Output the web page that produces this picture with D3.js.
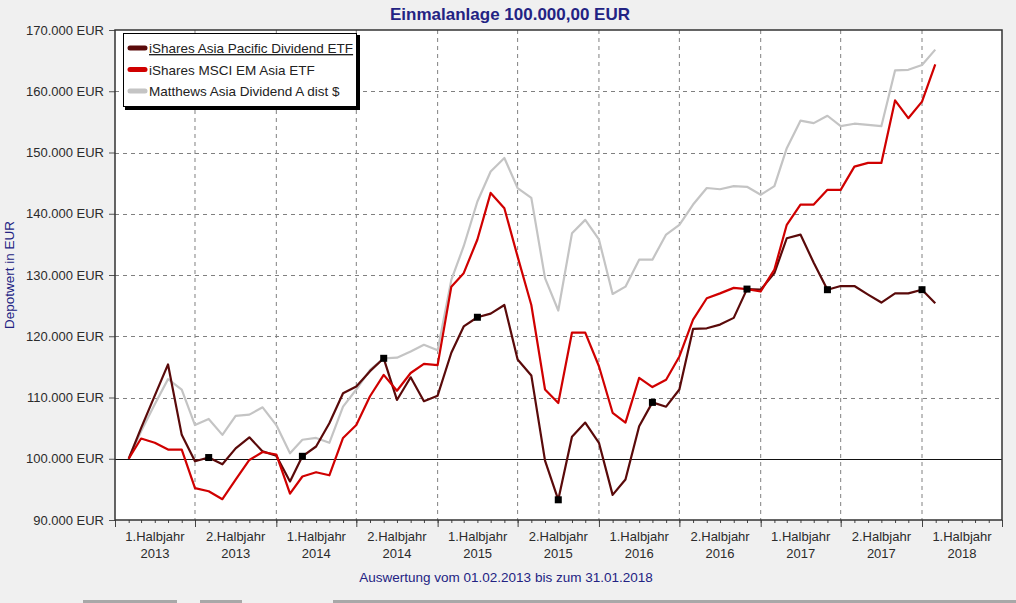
<!DOCTYPE html>
<html>
<head>
<meta charset="utf-8">
<script src="https://cdn.jsdelivr.net/npm/d3@7"></script>
<style>
  html, body { margin: 0; padding: 0; background: #f0f0f0; }
  svg { display: block; font-family: "Liberation Sans", Arial, sans-serif; }
</style>
</head>
<body>
<svg id="chart" width="1016" height="603"></svg>
<script>
// ---- data ----
const seriesNames = ["iShares Asia Pacific Dividend ETF", "iShares MSCI EM Asia ETF", "Matthews Asia Dividend A dist $"];
const seriesColors = ["#5a0a0a", "#d00000", "#c4c4c4"];

// monthly values Feb 2013 .. Jan 2018 (in thousand EUR)
const asiaPacDiv = [100.0,105.0,110.3,115.4,103.9,99.6,100.2,99.1,101.7,103.5,101.2,100.5,96.3,100.4,102.0,105.8,110.7,111.8,114.3,116.4,
  109.6,113.3,109.4,110.3,117.3,121.6,123.1,123.7,125.1,116.2,113.6,99.7,93.3,103.6,105.9,102.6,94.1,96.6,105.3,109.2,
  108.5,111.3,121.2,121.3,121.9,123.0,127.7,127.6,130.3,136.0,136.6,132.0,127.6,128.2,128.2,126.8,125.5,127.0,127.0,127.6,125.4];
const msciEmAsia = [100.0,103.3,102.6,101.5,101.5,95.2,94.7,93.4,96.6,99.8,101.1,100.7,94.3,97.1,97.8,97.3,103.4,105.5,110.2,113.7,
  111.1,114.0,115.5,115.3,128.1,130.3,135.8,143.4,140.9,133.0,125.1,111.3,109.1,120.6,120.6,115.1,107.5,105.9,113.2,111.7,
  112.9,116.7,122.7,126.2,127.0,127.9,127.7,127.3,130.9,138.2,141.5,141.5,143.9,143.9,147.7,148.3,148.3,158.5,155.6,158.3,164.4];
const matthews = [100.0,104.5,108.9,113.0,111.3,105.5,106.5,103.9,107.0,107.2,108.4,105.5,100.9,103.1,103.4,102.6,108.5,111.3,114.5,116.4,
  116.5,117.5,118.6,117.7,129.2,134.7,142.0,146.9,149.1,144.2,142.6,129.5,124.2,136.8,139.0,135.8,126.9,128.1,132.5,132.5,
  136.6,138.2,141.5,144.2,144.0,144.5,144.4,143.1,144.5,150.7,155.2,154.8,156.0,154.3,154.7,154.5,154.3,163.4,163.5,164.3,166.8];
// point indices (0-based) carrying a marker on the first series
const markerIdx = [6, 13, 19, 26, 32, 39, 46, 52, 59];

const yTicks = [90, 100, 110, 120, 130, 140, 150, 160, 170];
const xHalfLabels = [["1.Halbjahr","2013"],["2.Halbjahr","2013"],["1.Halbjahr","2014"],["2.Halbjahr","2014"],
  ["1.Halbjahr","2015"],["2.Halbjahr","2015"],["1.Halbjahr","2016"],["2.Halbjahr","2016"],
  ["1.Halbjahr","2017"],["2.Halbjahr","2017"],["1.Halbjahr","2018"]];
const titleText = "Einmalanlage 100.000,00 EUR";
const yTitle = "Depotwert in EUR";
const footText = "Auswertung vom 01.02.2013 bis zum 31.01.2018";

// dates: first of each month Feb 2013 .. Jan 2018, last point 31.01.2018
const dates = d3.timeMonth.range(new Date(2013, 1, 1), new Date(2018, 0, 2));
dates.push(new Date(2018, 0, 31));

// ---- layout ----
const svg = d3.select("#chart");
const L = 115, R = 1002, T = 30, B = 520;
const x = d3.scaleTime().domain([new Date(2013, 0, 1), new Date(2018, 6, 1)]).range([L, R]);
const y = d3.scaleLinear().domain([90, 170]).range([B, T]);
const blue = "#232383";
const textCol = "#2b2b2b";

// plot background
svg.append("rect").attr("x", L).attr("y", T).attr("width", R - L).attr("height", B - T).attr("fill", "#fff");

// grid
const halfYears = d3.timeMonth.every(6).range(new Date(2013, 0, 1), new Date(2018, 6, 2));
svg.append("g").selectAll("line").data(halfYears.slice(1, -1)).join("line")
  .attr("x1", d => x(d)).attr("x2", d => x(d)).attr("y1", T).attr("y2", B)
  .attr("stroke", "#808080").attr("stroke-dasharray", "4,4").attr("stroke-width", 1);
svg.append("g").selectAll("line").data(yTicks.filter(v => v !== 90 && v !== 170 && v !== 100)).join("line")
  .attr("x1", L).attr("x2", R).attr("y1", d => Math.round(y(d)) + 0.5).attr("y2", d => Math.round(y(d)) + 0.5)
  .attr("stroke", "#808080").attr("stroke-dasharray", "4,4").attr("stroke-width", 1);
// baseline 100.000
svg.append("line").attr("x1", L).attr("x2", R).attr("y1", Math.round(y(100)) + 0.5).attr("y2", Math.round(y(100)) + 0.5)
  .attr("stroke", "#111").attr("stroke-width", 1.2);

// y axis
const yAxis = d3.axisLeft(y).tickValues(yTicks).tickSize(6).tickPadding(4)
  .tickFormat(d => d3.format(",")(d * 1000).replace(/,/g, ".") + " EUR");
const gy = svg.append("g").attr("transform", `translate(${L},0)`).call(yAxis);
gy.select(".domain").remove();
gy.selectAll("line").attr("stroke", "#555");
gy.selectAll("text").attr("fill", textCol).style("font-size", "13px").attr("dx", "-1");

// x axis: minor monthly ticks + major half-year ticks
const months = d3.timeMonth.range(new Date(2013, 0, 1), new Date(2018, 6, 2));
const gx = svg.append("g").attr("transform", `translate(0,${B})`);
gx.call(d3.axisBottom(x).tickValues(months).tickSize(3).tickFormat(""))
  .select(".domain").remove();
gx.selectAll("line").attr("stroke", "#444");
const gx2 = svg.append("g").attr("transform", `translate(0,${B})`);
gx2.call(d3.axisBottom(x).tickValues(halfYears).tickSize(7).tickFormat("")).select(".domain").remove();
gx2.selectAll("line").attr("stroke", "#444");

// x labels centered in each half-year
const lab = svg.append("g").selectAll("text").data(xHalfLabels).join("text")
  .attr("text-anchor", "middle").attr("fill", textCol).style("font-size", "13px")
  .attr("transform", (d, i) => `translate(${(x(halfYears[i]) + x(halfYears[i + 1])) / 2},0)`);
lab.append("tspan").attr("x", 0).attr("y", 541).text(d => d[0]);
lab.append("tspan").attr("x", 0).attr("y", 558).text(d => d[1]);

// lines
const valuesBySeries = [asiaPacDiv, msciEmAsia, matthews];
const line = d3.line().x((d, i) => x(dates[i])).y(d => y(d));
[2, 0, 1].forEach(s => {
  svg.append("path").datum(valuesBySeries[s]).attr("d", line)
    .attr("fill", "none").attr("stroke", seriesColors[s]).attr("stroke-width", 2.2)
    .attr("stroke-linejoin", "round");
});
// markers
svg.append("g").selectAll("rect").data(markerIdx).join("rect")
  .attr("x", i => x(dates[i]) - 3.5).attr("y", i => y(asiaPacDiv[i]) - 3.5)
  .attr("width", 7).attr("height", 7).attr("fill", "#000");

// plot border
svg.append("rect").attr("x", L).attr("y", T).attr("width", R - L).attr("height", B - T)
  .attr("fill", "none").attr("stroke", "#333").attr("stroke-width", 1.5);

// legend
const lg = svg.append("g");
lg.append("rect").attr("x", 125).attr("y", 35).attr("width", 235).attr("height", 75).attr("fill", "#000");
lg.append("rect").attr("x", 123.5).attr("y", 33.5).attr("width", 233).attr("height", 73)
  .attr("fill", "#fff").attr("stroke", "#000").attr("stroke-width", 1);
const items = lg.selectAll("g.item").data(seriesNames).join("g").attr("class", "item")
  .attr("transform", (d, i) => `translate(0,${48 + i * 21.5})`);
items.append("line").attr("x1", 130).attr("x2", 145).attr("y1", 0).attr("y2", 0)
  .attr("stroke", (d, i) => seriesColors[i]).attr("stroke-width", 5).attr("stroke-linecap", "round");
items.append("text").attr("x", 149).attr("y", 5).attr("fill", "#222").style("font-size", "13.5px")
  .style("text-decoration", (d, i) => i === 0 ? "underline" : "none").text(d => d);

// titles
svg.append("text").attr("x", 510).attr("y", 19.5).attr("text-anchor", "middle").attr("fill", blue)
  .style("font-size", "17px").style("font-weight", "bold").text(titleText);
svg.append("text").attr("transform", `translate(14,${275}) rotate(-90)`).attr("text-anchor", "middle")
  .attr("fill", blue).style("font-size", "13.5px").text(yTitle);
svg.append("text").attr("x", 506).attr("y", 582).attr("text-anchor", "middle").attr("fill", blue)
  .style("font-size", "13.5px").text(footText);

// bottom window edge details
const edge = svg.append("g").attr("fill", "#a8a8a8");
edge.append("rect").attr("x", 83).attr("y", 600).attr("width", 94).attr("height", 3);
edge.append("rect").attr("x", 200).attr("y", 600).attr("width", 42).attr("height", 3);
edge.append("rect").attr("x", 333).attr("y", 600).attr("width", 683).attr("height", 3);
</script>
</body>
</html>
